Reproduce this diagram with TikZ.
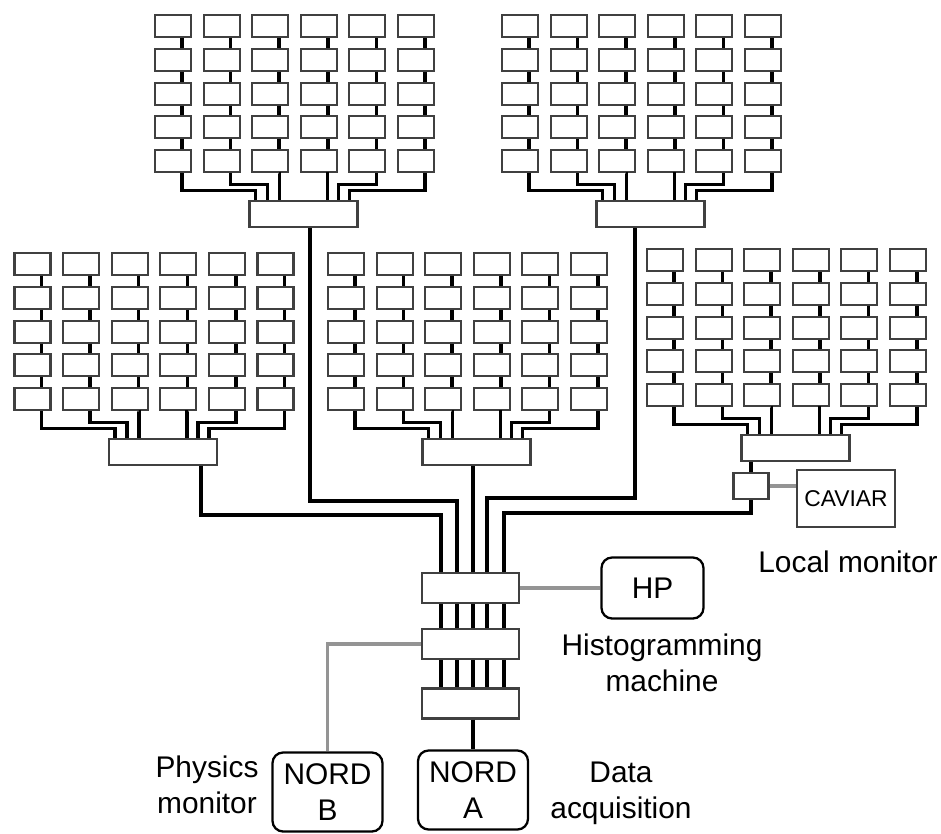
\documentclass[tikz,border=0pt]{standalone}
\usepackage{fontspec}
\setmainfont{Liberation Sans}
\definecolor{boxedge}{gray}{0.25}
\definecolor{linkgray}{gray}{0.58}
\usepackage{tikz}
\usetikzlibrary{calc}
\tikzset{
  unit/.style={draw=boxedge,line width=1.2pt,minimum width=0.72cm,minimum height=0.44cm,inner sep=0pt},
  hubbox/.style={unit,minimum width=2.16cm,minimum height=0.52cm},
  busbox/.style={unit,minimum width=1.94cm,minimum height=0.6cm},
  link/.style={black,line width=2pt},
  graylink/.style={linkgray,line width=2pt},
  bigtext/.style={font=\fontsize{17}{20.5}\selectfont},
  computer/.style={draw,line width=1.3pt,rounded corners=6pt,align=center,inner sep=0pt,
    minimum width=2.2cm,minimum height=1.58cm,bigtext},
  lab/.style={align=center,inner sep=0pt,bigtext},
}

\begin{document}
\begin{tikzpicture}[x=0.02cm,y=-0.02cm]
  \useasboundingbox (0,0) rectangle (941,833);
  % five crates of 6x5 units, each with its own branch box
  \foreach \cl/\cx/\cy in {TL/173/26, TR/520/26, ML/32.5/264, MC/346/264, RC/665/260} {
    \foreach \i in {1,...,6}
      \foreach \j in {1,...,5}
        \node[unit] (\cl-\i-\j) at ({\cx+(\i-1)*48.6},{\cy+(\j-1)*33.8}) {};
    \foreach \i in {1,...,6}
      \foreach \j/\jn in {1/2,2/3,3/4,4/5}
        \draw[link] ($(\cl-\i-\j.south)+(9,0)$) -- ($(\cl-\i-\jn.north)+(9,0)$);
    \node[hubbox] (\cl-hub) at ({\cx+130.5},{\cy+188}) {};
    \foreach \i/\dx/\dy in {1/-48/17, 2/-36/11, 3/-24/0, 4/24/0, 5/35/11, 6/46/17}
      \draw[link] ($(\cl-\i-5.south)+(9,0)$) -- ++(0,\dy) -| ($(\cl-hub.north)+(\dx,0)$);
  }
  % main bus
  \node[busbox] (bus1) at (470.5,588) {};
  \node[busbox] (bus2) at (470.5,644) {};
  \node[busbox] (bus3) at (470.5,703.5) {};
  \foreach \dx in {-29.5,-13.5,2.5,16.5,33.5} {
    \draw[link] ($(bus1.south)+(\dx,0)$) -- ($(bus2.north)+(\dx,0)$);
    \draw[link] ($(bus2.south)+(\dx,0)$) -- ($(bus3.north)+(\dx,0)$);
  }
  \node[unit,minimum width=0.7cm,minimum height=0.52cm] (mux) at (751,486) {};
  \draw[link] ($(RC-hub.south)+(-44.5,0)$) -- (mux.north);
  \draw[link] ($(ML-hub.south)+(38,0)$) -- ++(0,49) -| ($(bus1.north)+(-29.5,0)$);
  \draw[link] ($(TL-hub.south)+(6.5,0)$) -- ++(0,273) -| ($(bus1.north)+(-13.5,0)$);
  \draw[link] ($(MC-hub.south)+(-3.5,0)$) -- ($(bus1.north)+(2.5,0)$);
  \draw[link] ($(TR-hub.south)+(-15.5,0)$) -- ++(0,270) -| ($(bus1.north)+(16.5,0)$);
  \draw[link] (mux.south) -- ++(0,13) -| ($(bus1.north)+(33.5,0)$);
  % computers
  \node[computer] (nordA) at (473,790) {NORD\\A};
  \node[computer] (nordB) at (327.5,792) {NORD\\B};
  \node[computer,minimum width=2.04cm,minimum height=1.22cm] (hp) at (652.5,588) {HP};
  \node[draw=boxedge,line width=0.7pt,minimum width=1.96cm,minimum height=1.14cm,inner sep=0pt,
    font=\fontsize{13}{15}\selectfont] (caviar) at (846,498.5) {CAVIAR};
  \draw[link] (bus3.south -| nordA.north) -- (nordA.north);
  \draw[graylink] (bus2.west) -| (nordB.north);
  \draw[graylink] (bus1.east) -- (hp.west);
  \draw[graylink] (mux.east) -- (mux.east -| caviar.west);
  \node[lab] (locallab) at (848,562) {Local monitor};
  \node[lab] (histlab) at (662,663) {Histogramming\\machine};
  \node[lab] (datalab) at (621,793) {Data\\acquisition};
  \node[lab] (physlab) at (207,785) {Physics\\monitor};
\end{tikzpicture}
\end{document}
